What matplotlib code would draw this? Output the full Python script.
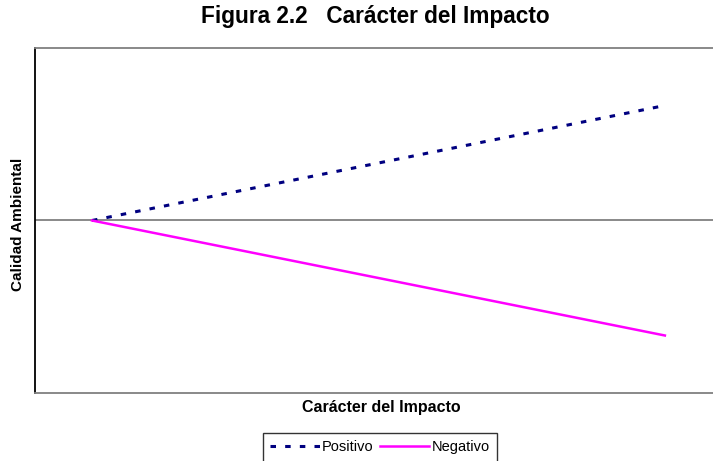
import matplotlib
matplotlib.use("Agg")
import matplotlib.pyplot as plt

plt.rcParams['font.family'] = ['Liberation Sans', 'DejaVu Sans']

x_vals = [0, 1]
positivo = [0, 1]
negativo = [0, -1]
series_labels = ["Positivo", "Negativo"]

W, H = 713, 461
fig = plt.figure(figsize=(W/100, H/100), dpi=100)
ax = fig.add_axes([35/W, 1-393/H, (W-35)/W + 0.02, (393-48)/H])

ax.plot(x_vals, positivo, color='#000080', lw=2.2,
        linestyle=(0, (1.8, 3.0)), dash_capstyle='butt', label=series_labels[0], zorder=3)
ax.plot(x_vals, negativo, color='#FF00FF', lw=1.8, label=series_labels[1], zorder=3)
ax.axhline(0, color='#808080', lw=1.3, zorder=2)

ax.set_xlim(-0.0995, 1.084 + 0.02 * W / (W - 35) * 1.183)
ax.set_ylim(-1.5, 1.5)
ax.set_xticks([])
ax.set_yticks([])
for s in ['top', 'bottom']:
    ax.spines[s].set_color('#808080')
    ax.spines[s].set_linewidth(1.3)
ax.spines['left'].set_color('black')
ax.spines['left'].set_linewidth(1.3)
ax.spines['right'].set_visible(False)

fig.text(375/W, 1-17/H, "Figura 2.2   Carácter del Impacto", ha='center', va='center',
         fontsize=16.3, fontweight='bold')
fig.text(381/W, 1-407/H, "Carácter del Impacto", ha='center', va='center',
         fontsize=11.5, fontweight='bold')
fig.text(18/W, 1-224/H, "Calidad Ambiental", ha='center', va='center',
         fontsize=11, fontweight='bold', rotation=90)

leg = fig.legend(loc='upper center', bbox_to_anchor=(380/W, 1-433/H), ncol=2,
                 frameon=True, fancybox=False, edgecolor='black', fontsize=10.5,
                 handlelength=3.4, handletextpad=0.15, columnspacing=0.4,
                 borderpad=0.5, borderaxespad=0)
leg.get_frame().set_linewidth(1.0)

fig.savefig("out.png", dpi=100)
